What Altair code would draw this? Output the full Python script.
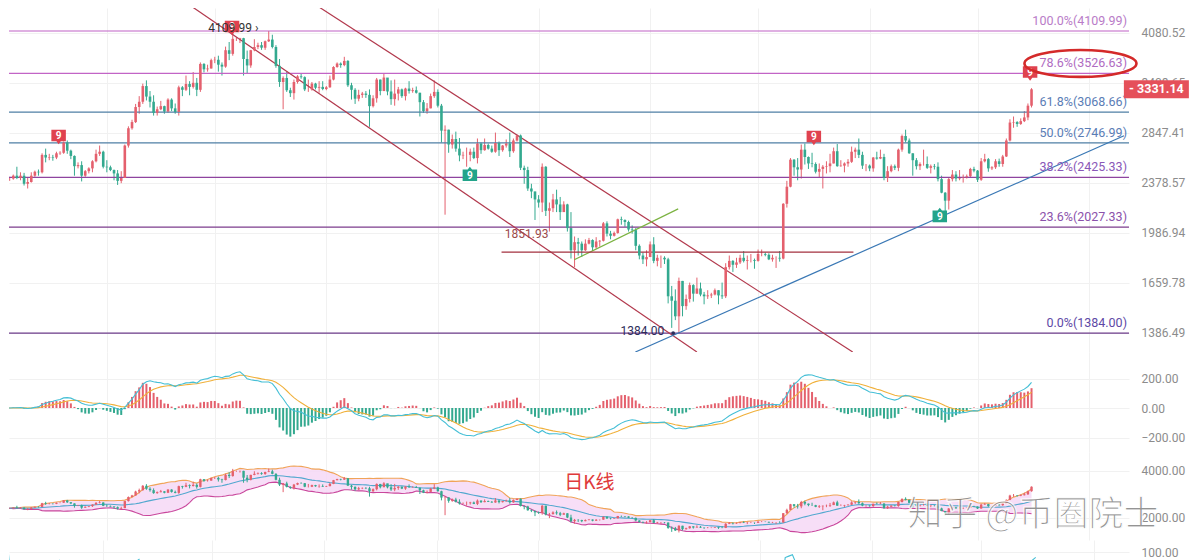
import altair as alt
import numpy as np
import pandas as pd

# ---------------- data (ETH daily, Oct 4 2024 .. Jul 16 2025) ----------------
FIRST_OPEN = 2350
CLOSE = [
    # Oct
    2415, 2415, 2440, 2420, 2440, 2370, 2385, 2440, 2475, 2470, 2630, 2605, 2610, 2605, 2645, 2650, 2750, 2670, 2620, 2525,
    2535, 2440, 2480, 2505, 2570, 2640, 2660, 2520,
    # Nov
    2515, 2490, 2460, 2395, 2420, 2720, 2895, 2960, 3125, 3185, 3370, 3245, 3185, 3060, 3100, 3135, 3075, 3210, 3110, 3070,
    3355, 3325, 3395, 3360, 3410, 3325, 3650, 3580, 3590, 3700,
    # Dec
    3705, 3640, 3615, 3835, 3785, 3995, 3995, 4005, 3715, 3630, 3835, 3880, 3905, 3870, 3960, 3985, 3880, 3625, 3420, 3470,
    3320, 3285, 3420, 3490, 3480, 3330, 3330, 3400, 3350, 3360, 3335,
    # Jan
    3355, 3450, 3610, 3655, 3635, 3690, 3380, 3325, 3220, 3265, 3280, 3265, 3135, 3225, 3450, 3310, 3475, 3305, 3215, 3280,
    3330, 3250, 3340, 3310, 3320, 3290, 3180, 3080, 3110, 3250, 3300,
    # Feb
    3140, 2870, 2880, 2730, 2785, 2690, 2625, 2630, 2630, 2660, 2600, 2740, 2675, 2725, 2690, 2660, 2745, 2675, 2720, 2740,
    2665, 2770, 2820, 2510, 2490, 2330, 2305, 2240,
    # Mar
    2215, 2520, 2150, 2170, 2240, 2200, 2140, 2200, 2020, 1865, 1920, 1910, 1865, 1910, 1935, 1885, 1925, 1930, 2055, 1980,
    1965, 1985, 2085, 2080, 2065, 2010, 2005, 1895, 1830, 1805, 1820,
    # Apr
    1905, 1795, 1815, 1815, 1805, 1580, 1555, 1470, 1670, 1525, 1565, 1645, 1595, 1625, 1590, 1580, 1585, 1590, 1615, 1585,
    1580, 1755, 1795, 1770, 1785, 1815, 1795, 1800, 1800, 1795,
    # May
    1840, 1840, 1835, 1805, 1815, 1815, 1810, 2205, 2345, 2585, 2515, 2495, 2680, 2610, 2550, 2545, 2475, 2500, 2520, 2525,
    2550, 2665, 2525, 2530, 2550, 2565, 2660, 2680, 2630, 2530, 2530,
    # Jun
    2505, 2605, 2595, 2610, 2420, 2480, 2525, 2510, 2680, 2815, 2770, 2645, 2580, 2525, 2545, 2545, 2510, 2525, 2520, 2410,
    2295, 2230, 2410, 2450, 2415, 2420, 2425, 2435, 2500, 2485,
    # Jul
    2405, 2570, 2590, 2505, 2515, 2570, 2545, 2615, 2770, 2955, 2960, 2940, 2970, 3010, 3140, 3331.14,
]
HIGH = [
    2440, 2430, 2450, 2520, 2470, 2465, 2420, 2470, 2485, 2495, 2645, 2690, 2640, 2630, 2660, 2665, 2760, 2770, 2680, 2625,
    2560, 2570, 2490, 2515, 2580, 2680, 2720, 2670,
    2580, 2530, 2495, 2490, 2480, 2730, 2915, 2985, 3160, 3250, 3400, 3440, 3310, 3260, 3130, 3195, 3140, 3225, 3225, 3165,
    3375, 3370, 3500, 3430, 3545, 3470, 3670, 3660, 3640, 3720,
    3745, 3760, 3670, 3885, 3950, 4090, 4015, 4010, 4010, 3830, 3840, 3990, 3940, 3950, 3970, 4109.99, 4055, 3905, 3715, 3490,
    3545, 3350, 3450, 3505, 3520, 3490, 3450, 3420, 3410, 3430, 3430,
    3370, 3500, 3620, 3670, 3670, 3745, 3700, 3410, 3345, 3325, 3300, 3310, 3330, 3260, 3470, 3450, 3525, 3450, 3440, 3450,
    3360, 3340, 3350, 3430, 3350, 3365, 3290, 3205, 3170, 3280, 3440,
    3330, 3160, 2925, 2880, 2830, 2860, 2795, 2660, 2700, 2690, 2700, 2790, 2750, 2790, 2740, 2720, 2850, 2760, 2725, 2780,
    2850, 2790, 2830, 2830, 2530, 2520, 2370, 2305,
    2275, 2550, 2525, 2215, 2285, 2320, 2260, 2225, 2205, 2140, 1960, 1950, 1925, 1940, 1950, 1940, 1955, 1935, 2065, 2070,
    2000, 1995, 2090, 2105, 2085, 2075, 2040, 2020, 1905, 1850, 1865,
    1925, 1955, 1835, 1830, 1825, 1815, 1640, 1620, 1690, 1670, 1590, 1660, 1650, 1690, 1660, 1605, 1615, 1600, 1625, 1615,
    1660, 1780, 1830, 1800, 1815, 1835, 1860, 1830, 1840, 1810,
    1870, 1870, 1850, 1845, 1835, 1825, 1860, 2210, 2395, 2600, 2590, 2600, 2730, 2740, 2615, 2650, 2560, 2550, 2535, 2570,
    2640, 2700, 2735, 2580, 2560, 2590, 2710, 2700, 2790, 2660, 2545,
    2540, 2610, 2660, 2680, 2640, 2525, 2540, 2540, 2690, 2830, 2880, 2790, 2645, 2600, 2560, 2680, 2615, 2540, 2545, 2560,
    2440, 2300, 2420, 2490, 2480, 2490, 2450, 2450, 2510, 2520,
    2490, 2600, 2640, 2600, 2525, 2590, 2595, 2630, 2790, 2990, 3020, 2970, 3000, 3080, 3165, 3345,
]
LOW = [
    2340, 2395, 2405, 2410, 2400, 2355, 2330, 2380, 2430, 2440, 2460, 2560, 2580, 2575, 2590, 2630, 2640, 2640, 2590, 2440,
    2505, 2390, 2430, 2460, 2470, 2560, 2620, 2505,
    2470, 2480, 2400, 2360, 2375, 2420, 2700, 2880, 2950, 3050, 3160, 3200, 3120, 3030, 3030, 3090, 3050, 3060, 3080, 3050,
    3030, 3250, 3310, 3260, 3340, 3250, 3300, 3540, 3550, 3590,
    3660, 3550, 3500, 3600, 3700, 3760, 3965, 3935, 3500, 3520, 3600, 3820, 3850, 3840, 3840, 3950, 3860, 3600, 3360, 3100,
    3300, 3240, 3210, 3400, 3460, 3310, 3300, 3315, 3330, 3290, 3320,
    3320, 3350, 3440, 3600, 3600, 3620, 3360, 3210, 3160, 3190, 3230, 3230, 2910, 3120, 3175, 3260, 3310, 3260, 3150, 3140,
    3200, 3230, 3200, 3280, 3290, 3280, 3020, 3060, 3050, 3110, 3230,
    3120, 2750, 2120, 2650, 2690, 2660, 2570, 2590, 2520, 2570, 2590, 2550, 2640, 2670, 2680, 2650, 2650, 2620, 2660, 2700,
    2610, 2650, 2760, 2490, 2370, 2310, 2250, 2080,
    2175, 2140, 2110, 1995, 2140, 2140, 2080, 2145, 1995, 1810, 1755, 1830, 1820, 1860, 1905, 1860, 1875, 1890, 1925, 1960,
    1940, 1960, 1980, 2045, 2030, 1995, 1980, 1865, 1805, 1775, 1760,
    1820, 1780, 1760, 1750, 1775, 1540, 1410, 1450, 1384, 1470, 1505, 1545, 1550, 1595, 1580, 1535, 1565, 1570, 1585, 1535,
    1565, 1570, 1740, 1725, 1750, 1775, 1785, 1740, 1785, 1745,
    1790, 1825, 1825, 1800, 1790, 1750, 1790, 1805, 2175, 2340, 2440, 2400, 2415, 2540, 2500, 2515, 2460, 2425, 2330, 2460,
    2470, 2550, 2520, 2520, 2470, 2520, 2555, 2600, 2600, 2500, 2480,
    2480, 2475, 2585, 2590, 2400, 2385, 2470, 2490, 2480, 2660, 2750, 2640, 2440, 2495, 2490, 2530, 2500, 2460, 2495, 2390,
    2290, 2110, 2160, 2390, 2390, 2400, 2380, 2415, 2420, 2470,
    2385, 2395, 2560, 2475, 2490, 2500, 2520, 2520, 2610, 2760, 2900, 2910, 2930, 2960, 2980, 3120,
]

MONTH_START = [28, 58, 89, 120, 148, 179, 209, 240, 270, 301]

FIB_LABEL = ["100.0%(4109.99)", "78.6%(3526.63)", "61.8%(3068.66)", "50.0%(2746.99)",
             "38.2%(2425.33)", "23.6%(2027.33)", "0.0%(1384.00)"]
FIB_VALUE = [4109.99, 3526.63, 3068.66, 2746.99, 2425.33, 2027.33, 1384.00]
FIB_LINE_COLOR = ["#bf62c6", "#c264c6", "#4f7fa5", "#4f7fa5", "#8e449f", "#7c3d8d", "#6c3b8a"]
FIB_TEXT_COLOR = ["#b97cc8", "#b06cc2", "#5a7db6", "#5a7db6", "#8a58b8", "#8b52ab", "#5d48a6"]

PRICE_TICKS = [4080.52, 3408.65, 2847.41, 2378.57, 1986.94, 1659.78, 1386.49]
MACD_TICKS = [200, 0, -200]
BOLL_TICKS = [4000, 2000]
RSI_TICKS = [100]

TREND_NAME = ["ch_low", "ch_low", "ch_up", "ch_up", "support", "support", "wedge", "wedge", "lvl", "lvl"]
TREND_I = [49.0, 192.0, 84.0, 235.3, 174.9, 310.7, 157.9, 186.8, 137.7, 235.5]
TREND_P = [4594, 1292.6, 4594, 1292.6, 1292.6, 2817, 1802, 2165, 1851.93, 1851.93]
TREND_COLOR = {"ch_low": "#b2394d", "ch_up": "#b2394d", "support": "#3a78b5", "wedge": "#7cb342", "lvl": "#a3303f"}

SIGNAL_I = [14.6, 62.8, 224.5, 284.6, 128.9, 259.5]
SIGNAL_P = [2806, 4155, 2796, 3526, 2456, 2118]
SIGNAL_KIND = ["top", "top", "top", "top", "bottom", "bottom"]

LAST_PRICE = 3331.14

# ---------------- styles ----------------
UP = "#e4606d"
DOWN = "#33a98f"
GRID = "#f1f1f1"
FONT = "Roboto"
CJK = "Noto Sans CJK SC"

n = min(len(CLOSE), len(HIGH), len(LOW))
close = pd.Series(CLOSE[:n], dtype=float)
opens = [FIRST_OPEN] + list(close[:-1])
df = pd.DataFrame({"i": np.arange(n), "o": opens, "h": HIGH[:n], "l": LOW[:n], "c": close})
df["col"] = np.where(df.c >= df.o, UP, DOWN)

# indicators derived from the price series
ema12 = close.ewm(span=12, adjust=False).mean()
ema26 = close.ewm(span=26, adjust=False).mean()
df["dif"] = ema12 - ema26
df["dea"] = df["dif"].ewm(span=9, adjust=False).mean()
df["hist"] = 2 * (df["dif"] - df["dea"])
df["hcol"] = np.where(df["hist"] >= 0, UP, DOWN)
mid = close.rolling(20, min_periods=1).mean()
sd = close.rolling(20, min_periods=1).std(ddof=0).fillna(0)
df["mid"] = mid
df["bup"] = mid + 2 * sd
df["blo"] = mid - 2 * sd
delta = close.diff().fillna(0)
ag = delta.clip(lower=0).ewm(alpha=1 / 6, adjust=False).mean()
al = (-delta.clip(upper=0)).ewm(alpha=1 / 6, adjust=False).mean()
df["rsi"] = (100 * ag / (ag + al)).fillna(50)

W = 1120
X_SCALE = alt.Scale(domain=[2.2, 310.7], nice=False, zero=False)
X_AXIS = alt.Axis(values=MONTH_START, grid=True, gridColor=GRID, labels=False, ticks=False,
                  domain=False, title=None)


def xenc():
    return alt.X("i:Q", scale=X_SCALE, axis=X_AXIS)


def yaxis(vals):
    return alt.Axis(orient="right", values=vals, format=".2f", grid=True, gridColor=GRID,
                    ticks=False, tickSize=0, domain=False, labelPadding=12, labelFontSize=12,
                    labelColor="#8c8c8c", labelFont=FONT, title=None, labelOverlap=False)


# ---------------- main price panel ----------------
Y_MAIN = alt.Scale(type="log", domain=[1292.6, 4465], nice=False)
AX_MAIN = yaxis(PRICE_TICKS)


def ym(field):
    return alt.Y(field, scale=Y_MAIN, axis=AX_MAIN)


fib = pd.DataFrame({"v": FIB_VALUE, "label": FIB_LABEL, "lc": FIB_LINE_COLOR, "tc": FIB_TEXT_COLOR})
trend = pd.DataFrame({"name": TREND_NAME, "i": TREND_I, "p": TREND_P})
trend["col"] = trend["name"].map(TREND_COLOR)
sig = pd.DataFrame({"i": SIGNAL_I, "p": SIGNAL_P, "kind": SIGNAL_KIND})

wicks = alt.Chart(df).mark_rule(strokeWidth=1, clip=True).encode(
    x=xenc(), y=ym("l:Q"), y2="h:Q", color=alt.Color("col:N", scale=None))
bodies = alt.Chart(df).mark_bar(width=2.6, clip=True).encode(
    x=xenc(), y=ym("o:Q"), y2="c:Q", color=alt.Color("col:N", scale=None))
fib_rules = alt.Chart(fib).mark_rule(strokeWidth=1.2).encode(
    y=ym("v:Q"), color=alt.Color("lc:N", scale=None))
fib_text = alt.Chart(fib).mark_text(align="right", baseline="middle", dy=-10, fontSize=12.5, font=FONT).encode(
    x=alt.value(1118), y=ym("v:Q"), text="label:N", color=alt.Color("tc:N", scale=None))
trend_lines = alt.Chart(trend).mark_line(strokeWidth=1.2, clip=True).encode(
    x=xenc(), y=ym("p:Q"), detail="name:N", color=alt.Color("col:N", scale=None))

TOP_PATH = "M-1,-1L1,-1L1,0.6L0.3,0.6L0,1L-0.3,0.6L-1,0.6Z"
BOT_PATH = "M-1,-0.6L-0.3,-0.6L0,-1L0.3,-0.6L1,-0.6L1,1L-1,1Z"
sig_top = alt.Chart(sig).transform_filter(alt.datum.kind == "top").mark_point(
    shape=TOP_PATH, size=210, filled=True, opacity=1, color="#e0424f").encode(x=xenc(), y=ym("p:Q"))
sig_bot = alt.Chart(sig).transform_filter(alt.datum.kind == "bottom").mark_point(
    shape=BOT_PATH, size=210, filled=True, opacity=1, color="#23a48a").encode(x=xenc(), y=ym("p:Q"))
sig_txt_top = alt.Chart(sig).transform_filter(alt.datum.kind == "top").mark_text(
    text="9", color="white", fontSize=10, fontWeight="bold", font=FONT, dy=-1).encode(x=xenc(), y=ym("p:Q"))
sig_txt_bot = alt.Chart(sig).transform_filter(alt.datum.kind == "bottom").mark_text(
    text="9", color="white", fontSize=10, fontWeight="bold", font=FONT, dy=2).encode(x=xenc(), y=ym("p:Q"))

peak_lbl = alt.Chart(pd.DataFrame({"i": [56.2], "p": [4109.99], "t": ["4109.99  \u203a"]})).mark_text(
    align="left", baseline="middle", dy=-3, fontSize=12, font=FONT, color="#333333").encode(
    x=xenc(), y=ym("p:Q"), text="t:N")
lvl_lbl = alt.Chart(pd.DataFrame({"i": [138.6], "p": [1851.93], "t": ["1851.93"]})).mark_text(
    align="left", baseline="middle", dy=-18, fontSize=12, font=FONT, color="#9b4a4a").encode(
    x=xenc(), y=ym("p:Q"), text="t:N")
low_lbl = alt.Chart(pd.DataFrame({"i": [182.9], "p": [1384.0], "t": ["1384.00"]})).mark_text(
    align="right", baseline="middle", dy=-2, fontSize=12, font=FONT, color="#2d2d5a").encode(
    x=xenc(), y=ym("p:Q"), text="t:N")
low_dot = alt.Chart(pd.DataFrame({"i": [185.4], "p": [1384.0]})).mark_point(
    shape="circle", size=14, filled=True, opacity=1, color="#2d2d5a").encode(x=xenc(), y=ym("p:Q"))

tag_df = pd.DataFrame({"i": [319.7], "p": [LAST_PRICE], "t": ["- %.2f" % LAST_PRICE]})
tag_box = alt.Chart(tag_df).mark_point(
    shape="M-1,-0.277L1,-0.277L1,0.277L-1,0.277Z", size=4225, filled=True, opacity=1,
    color="#e5505a").encode(x=xenc(), y=ym("p:Q"))
tag_txt = alt.Chart(tag_df).mark_text(
    fontSize=12.5, fontWeight="bold", font=FONT, color="white", baseline="middle").encode(
    x=xenc(), y=ym("p:Q"), text="t:N")
ellipse = alt.Chart(pd.DataFrame({"i": [298.6], "p": [3526.63]})).mark_point(
    shape="M-1,0A1,0.24,0,1,1,1,0A1,0.24,0,1,1,-1,0Z", size=12544, filled=False,
    opacity=1, stroke="#d42a2a", strokeWidth=2.6, yOffset=-10).encode(x=xenc(), y=ym("p:Q"))

main = alt.layer(
    wicks, fib_rules, trend_lines, bodies, fib_text, sig_top, sig_bot, sig_txt_top, sig_txt_bot,
    peak_lbl, lvl_lbl, low_lbl, low_dot, tag_box, tag_txt, ellipse
).properties(width=W, height=344)

# ---------------- MACD panel ----------------
Y_MACD = alt.Scale(domain=[-298.3, 379.7], nice=False, zero=False)
AX_MACD = yaxis(MACD_TICKS)
hist = alt.Chart(df).mark_bar(width=2, clip=True).encode(
    x=xenc(), y=alt.Y("hist:Q", scale=Y_MACD, axis=AX_MACD), y2=alt.datum(0),
    color=alt.Color("hcol:N", scale=None))
dif = alt.Chart(df).mark_line(strokeWidth=1.1, clip=True, color="#45bfd6").encode(
    x=xenc(), y=alt.Y("dif:Q", scale=Y_MACD, axis=AX_MACD))
dea = alt.Chart(df).mark_line(strokeWidth=1.1, clip=True, color="#f0b03a").encode(
    x=xenc(), y=alt.Y("dea:Q", scale=Y_MACD, axis=AX_MACD))
macd = alt.layer(hist, dea, dif).properties(width=W, height=100)

# ---------------- BOLL panel ----------------
Y_BOLL = alt.Scale(domain=[1063.8, 4808.5], nice=False, zero=False)
AX_BOLL = yaxis(BOLL_TICKS)


def yb(field):
    return alt.Y(field, scale=Y_BOLL, axis=AX_BOLL)


band = alt.Chart(df).mark_area(clip=True, color="#f6d8f6", opacity=0.85).encode(
    x=xenc(), y=yb("bup:Q"), y2="blo:Q")
b_up = alt.Chart(df).mark_line(strokeWidth=1.1, clip=True, color="#f0a458").encode(x=xenc(), y=yb("bup:Q"))
b_mid = alt.Chart(df).mark_line(strokeWidth=1.1, clip=True, color="#52a8cf").encode(x=xenc(), y=yb("mid:Q"))
b_lo = alt.Chart(df).mark_line(strokeWidth=1.1, clip=True, color="#c9479c").encode(x=xenc(), y=yb("blo:Q"))
b_wick = alt.Chart(df).mark_rule(strokeWidth=1, clip=True).encode(
    x=xenc(), y=yb("l:Q"), y2="h:Q", color=alt.Color("col:N", scale=None))
b_body = alt.Chart(df).mark_bar(width=2.4, clip=True).encode(
    x=xenc(), y=yb("o:Q"), y2="c:Q", color=alt.Color("col:N", scale=None))
kline_txt = alt.Chart(pd.DataFrame({"i": [162.1], "p": [3470], "t": ["日K线"]})).mark_text(
    fontSize=19, font=CJK, color="#e03a3a", baseline="middle").encode(x=xenc(), y=yb("p:Q"), text="t:N")
watermark = alt.Chart(pd.DataFrame({"i": [285.4], "p": [2128], "t": ["知乎 @币圈院士"]})).mark_text(
    fontSize=35, font=CJK, color="#7a7a7a", opacity=0.8, stroke="white", strokeWidth=1.2,
    baseline="middle").encode(x=xenc(), y=yb("p:Q"), text="t:N")
boll = alt.layer(band, b_up, b_lo, b_mid, b_wick, b_body, kline_txt, watermark).properties(width=W, height=88)

# ---------------- RSI panel (only its top edge is visible) ----------------
Y_RSI = alt.Scale(domain=[90.4, 114.4], nice=False, zero=False)
rsi = alt.Chart(df).mark_line(strokeWidth=1.1, clip=True, color="#45bfd6").encode(
    x=xenc(), y=alt.Y("rsi:Q", scale=Y_RSI, axis=yaxis(RSI_TICKS))
).properties(width=W, height=20)

chart = alt.vconcat(main, macd, boll, rsi, spacing=0, bounds="flush").properties(
    padding=0, background="white"
).configure_view(stroke=None)

chart.save("out.html", embed_options={"renderer": "svg", "actions": False})
